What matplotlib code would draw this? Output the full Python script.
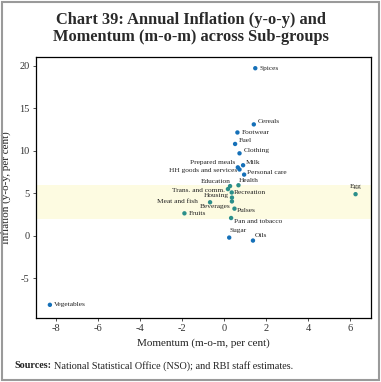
import matplotlib.pyplot as plt
from matplotlib.patches import Rectangle

# sub-group data: m-o-m momentum (x) and y-o-y inflation (y), per cent
names = ["Spices", "Cereals", "Footwear", "Fuel", "Clothing", "Milk",
         "Prepared meals", "HH goods and services", "Personal care", "Health",
         "Education", "Trans. and comm.", "Recreation", "Housing", "Beverages",
         "Meat and fish", "Fruits", "Pulses", "Pan and tobacco", "Sugar",
         "Oils", "Egg", "Vegetables"]
momentum = [1.48, 1.41, 0.63, 0.52, 0.73, 0.90,
            0.65, 0.73, 0.95, 0.68,
            0.28, 0.18, 0.36, 0.37, 0.37,
            -0.67, -1.89, 0.49, 0.33, 0.24,
            1.37, 6.25, -8.29]
inflation = [19.7, 13.1, 12.15, 10.8, 9.7, 8.3,
             8.05, 7.8, 7.2, 5.95,
             5.85, 5.5, 5.1, 4.5, 4.05,
             3.95, 2.65, 3.2, 2.1, -0.2,
             -0.55, 4.9, -8.1]
band = (2, 6)  # tolerance band

# label placement: (dx, dy) in pixels, horizontal alignment
label_pos = {
    "Spices": (4, 0, "left"), "Cereals": (4, 3, "left"), "Footwear": (4, 0, "left"),
    "Fuel": (4, 3, "left"), "Clothing": (4, 3, "left"), "Milk": (3, 3, "left"),
    "Prepared meals": (-3, 5, "right"), "HH goods and services": (-2, -1, "right"),
    "Personal care": (3, 2, "left"), "Health": (0, 5, "left"),
    "Education": (1, 5, "right"), "Trans. and comm.": (-3, -1, "right"),
    "Recreation": (2, 0, "left"), "Housing": (-3, 2, "right"),
    "Beverages": (-1, -5, "right"), "Meat and fish": (-12, 1, "right"),
    "Fruits": (4, 0, "left"), "Pulses": (2, -2, "left"),
    "Pan and tobacco": (3, -3, "left"), "Sugar": (0, 7, "left"),
    "Oils": (2, 5, "left"), "Egg": (0, 8, "center"), "Vegetables": (4, 0, "left"),
}

plt.rcParams["font.family"] = ["Liberation Serif", "DejaVu Serif"]
plt.rcParams["axes.unicode_minus"] = False

fig = plt.figure(figsize=(3.81, 3.82), dpi=100)
ax = fig.add_axes([0.0945, 0.1675, 0.879, 0.684])

ax.axhspan(band[0], band[1], color="#fdfbe1", zorder=0, lw=0)

colors = ["#2b8f8a" if band[0] <= v <= band[1] else "#1570b8" for v in inflation]
ax.scatter(momentum, inflation, s=10, c=colors, zorder=3, linewidths=0)

for n, x, y in zip(names, momentum, inflation):
    dx, dy, ha = label_pos[n]
    ax.annotate(n, (x, y), xytext=(dx, dy), textcoords="offset pixels",
                ha=ha, va="center", fontsize=5.3, color="#222222", zorder=4)

ax.set_xlim(-8.95, 6.98)
ax.set_ylim(-9.65, 21.05)
ax.set_xticks([-8, -6, -4, -2, 0, 2, 4, 6])
ax.set_yticks([-5, 0, 5, 10, 15, 20])
ax.tick_params(labelsize=7.5, length=2.5, width=0.6, colors="#333333", pad=2)
for s in ax.spines.values():
    s.set_linewidth(0.9)
ax.set_xlabel("Momentum (m-o-m, per cent)", fontsize=8, color="#222222", labelpad=4)
ax.set_ylabel("Inflation (y-o-y, per cent)", fontsize=8, color="#222222")
ax.yaxis.set_label_coords(-0.075, 0.5)

fig.text(0.5, 0.925, "Chart 39: Annual Inflation (y-o-y) and\nMomentum (m-o-m) across Sub-groups",
         ha="center", va="center", fontsize=11.8, fontweight="bold", color="#2a2a2a",
         linespacing=1.1)

fig.text(0.037, 0.043, "Sources:", fontsize=7.3, fontweight="bold", color="#222222", va="center")
fig.text(0.143, 0.043, "National Statistical Office (NSO); and RBI staff estimates.",
         fontsize=7.3, color="#222222", va="center")

fig.patches.append(Rectangle((0.004, 0.004), 0.992, 0.992, transform=fig.transFigure,
                             fill=False, edgecolor="#9a9a9a", linewidth=1.5))

fig.savefig("out.png", dpi=100)
